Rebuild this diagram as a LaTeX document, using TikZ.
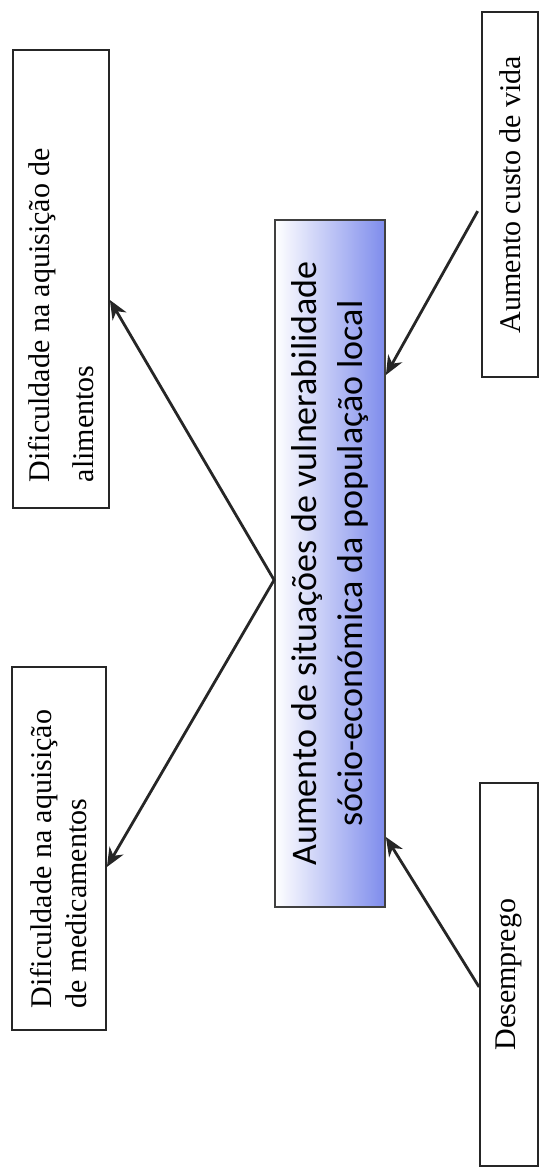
\documentclass[tikz,border=0pt]{standalone}
\usepackage{fontspec}
\setmainfont{Liberation Serif}
\newfontfamily\calibri{Carlito}
\usepackage{tikz}
\usetikzlibrary{arrows.meta}
\definecolor{periwinkle}{RGB}{126,140,236}
\tikzset{>={Stealth[length=19pt, width=16pt, inset=6pt]},
         node distance=270pt,
         factor/.style={draw=black!85, line width=1.8pt, rotate=90, fill=white,
                        inner sep=0pt, font=\fontsize{30}{35}\selectfont},
         problem/.style={draw=black!75, line width=1.8pt, rotate=90,
                         left color=white, middle color=cyan!12, right color=periwinkle,
                         inner sep=0pt, align=center,
                         font=\calibri\fontsize{36}{46}\selectfont},
         link/.style={line width=2.8pt, black!85},
         }

\begin{document}
\begin{tikzpicture}
    \useasboundingbox (-330pt,-604.5pt) rectangle (209pt,563.5pt);

    \node[problem, minimum width=687pt, minimum height=110pt] (cen)
        {Aumento de situações de vulnerabilidade\\sócio-económica da população local};
    \node[left of=cen, xshift=1pt, yshift=284.5pt, factor, minimum width=458pt,
          minimum height=96pt, text width=406pt, align=flush left,
          font=\fontsize{30}{44}\selectfont] (alim)
        {Dificuldade na aquisição de\\alimentos};
    \node[left of=cen, xshift=-1pt, yshift=-285pt, factor, minimum width=363pt,
          minimum height=94pt, text width=319pt, align=flush left] (medic)
        {Dificuldade na aquisição\\de medicamentos};
    \node[right of=cen, node distance=180pt, yshift=369pt, factor,
          minimum width=365pt, minimum height=56pt] (custo) {Aumento custo de vida};
    \node[right of=cen, node distance=179pt, yshift=-411pt, factor,
          minimum width=383pt, minimum height=58pt] (desemp) {Desemprego};

    \coordinate (split) at ([yshift=-16.5pt]cen.north);

    \draw[link, <->] ([yshift=-21pt]alim.south) -- (split) -- ([yshift=-18.5pt]medic.south);
    \draw[link, ->, shorten <=7pt] ([yshift=-10.5pt]custo.north) -- ([yshift=188.5pt]cen.south);
    \draw[link, ->] ([yshift=-12.5pt]desemp.north) -- ([yshift=-273.5pt]cen.south);
\end{tikzpicture}
\end{document}
